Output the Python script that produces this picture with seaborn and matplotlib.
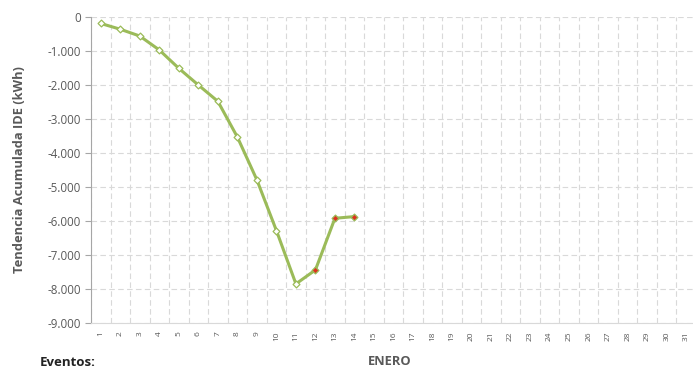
import matplotlib
matplotlib.use("Agg")
import matplotlib.pyplot as plt
import matplotlib.ticker as mticker
import numpy as np
import pandas as pd
import seaborn as sns

days = list(range(1, 32))
dias_datos = list(range(1, 15))
tendencia = [-190, -360, -560, -970, -1510, -2000, -2480, -3530,
             -4790, -6280, -7850, -7440, -5920, -5870]
evento = [False] * 11 + [True] * 3

df = pd.DataFrame({"dia": dias_datos, "tendencia": tendencia, "evento": evento})

sns.set_style("white")
plt.rcParams["font.family"] = ["Open Sans", "DejaVu Sans"]

green = "#9BBB59"
gray = "#595959"

fig = plt.figure(figsize=(6.93, 3.68), dpi=100)
ax = fig.add_axes([0.1313, 0.1223, 0.873, 0.8315])

sns.lineplot(data=df, x="dia", y="tendencia", color=green, linewidth=2.2, ax=ax, zorder=3)
sns.scatterplot(data=df[~df["evento"]], x="dia", y="tendencia", marker="D", s=12,
                facecolor="white", edgecolor=green, linewidth=0.9, ax=ax, zorder=4)
sns.scatterplot(data=df[df["evento"]], x="dia", y="tendencia", marker="D", s=12,
                facecolor="#E03020", edgecolor=green, linewidth=0.9, ax=ax, zorder=4)

ax.set_xlim(0.5, 31.5)
ax.set_ylim(-9000, 0)
ax.set_xticks(days)
ax.set_xticklabels([str(d) for d in days], rotation=90, fontsize=6, color=gray)
ax.xaxis.set_minor_locator(mticker.FixedLocator(np.arange(0.5, 32, 1)))
ax.tick_params(axis="x", which="major", length=0, pad=6)
ax.tick_params(axis="x", which="minor", length=3, color="#D9D9D9")
ax.set_yticks(np.arange(-9000, 1, 1000))
ax.yaxis.set_major_formatter(mticker.FuncFormatter(
    lambda v, p: "0" if v == 0 else f"{int(v):,}".replace(",", ".")))
ax.tick_params(axis="y", which="major", length=4, color="#A6A6A6", labelsize=8.3,
               labelcolor=gray, left=True, pad=3)

ax.grid(axis="y", which="major", color="#D9D9D9", linestyle=(0, (5, 3)), linewidth=0.8)
ax.grid(axis="x", which="minor", color="#D9D9D9", linestyle=(0, (5, 3)), linewidth=0.8)
ax.set_axisbelow(True)

for s in ["top", "right"]:
    ax.spines[s].set_visible(False)
ax.spines["left"].set_color("#A6A6A6")
ax.spines["bottom"].set_color("#D9D9D9")

ax.set_ylabel("Tendencia Acumulada IDE (kWh)", fontsize=9.3, fontweight="bold", color=gray,
              labelpad=16)
ax.set_xlabel("")
fig.text(0.563, 0.0, "ENERO", fontsize=9.3, fontweight="bold", color=gray, ha="center",
         va="bottom")
fig.text(0.058, -0.002, "Eventos:", fontsize=9.5, fontweight="bold", color="#222222",
         ha="left", va="bottom")

fig.savefig("out.png", dpi=100)
